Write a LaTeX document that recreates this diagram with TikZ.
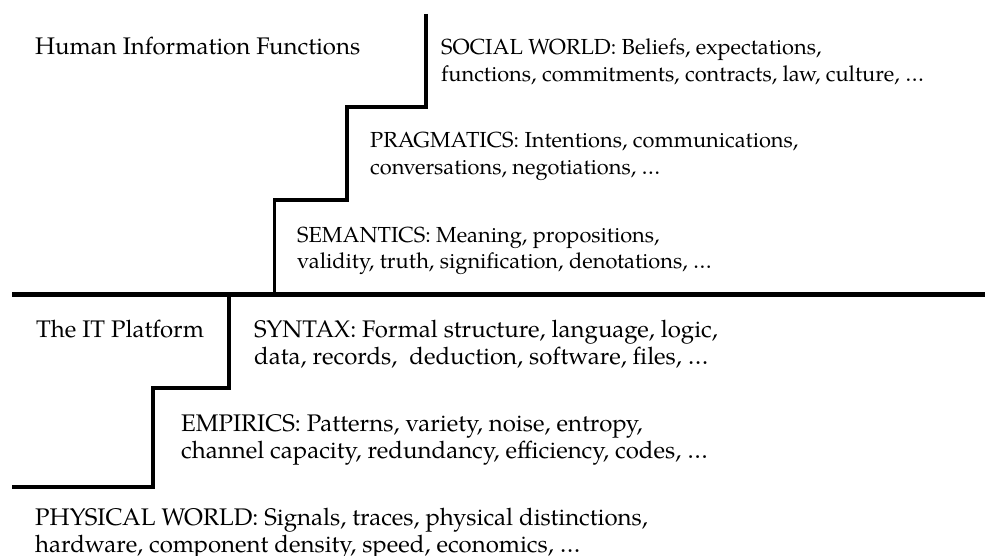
\documentclass[tikz,border=0pt]{standalone}
\usepackage{fontspec}
\setmainfont{TeX Gyre Pagella}
\begin{document}
\begin{tikzpicture}[x=1pt,y=-1pt,
  lbl/.style={anchor=base west,inner sep=0pt,align=left,font=\fontsize{24}{27}\selectfont},
  lblsmall/.style={lbl,font=\fontsize{21.8}{27}\selectfont},
  stair/.style={line width=3.5pt,line join=miter,line cap=butt},
  divider/.style={line width=5pt}]
\useasboundingbox (0,0) rectangle (985,556);
\draw[stair] (426,14) -- (426,107) -- (347,107) -- (347,200) -- (274.5,200) -- (274.5,294);
\draw[stair] (229,294) -- (229,388) -- (153,388) -- (153,487) -- (12,487);
\draw[divider] (12,294) -- (985,294);
\node[lbl] (hif) at (35,55) {Human Information Functions};
\node[lblsmall] (soc) at (441,82) {SOCIAL WORLD: Beliefs, expectations,\\functions, commitments, contracts, law, culture, \dots};
\node[lblsmall] (pra) at (370,175) {PRAGMATICS: Intentions, communications,\\conversations, negotiations, \dots};
\node[lblsmall] (sem) at (297,269) {SEMANTICS: Meaning, propositions,\\validity, truth, signification, denotations, \dots};
\node[lbl] (itp) at (36,337) {The IT Platform};
\node[lbl] (syn) at (254,364) {SYNTAX: Formal structure, language, logic,\\data, records, \ deduction, software, files, \dots};
\node[lbl] (emp) at (181,458) {EMPIRICS: Patterns, variety, noise, entropy,\\channel capacity, redundancy, efficiency, codes, \dots};
\node[lbl] (phy) at (35,552) {PHYSICAL WORLD: Signals, traces, physical distinctions,\\hardware, component density, speed, economics, \dots};
\end{tikzpicture}
\end{document}
